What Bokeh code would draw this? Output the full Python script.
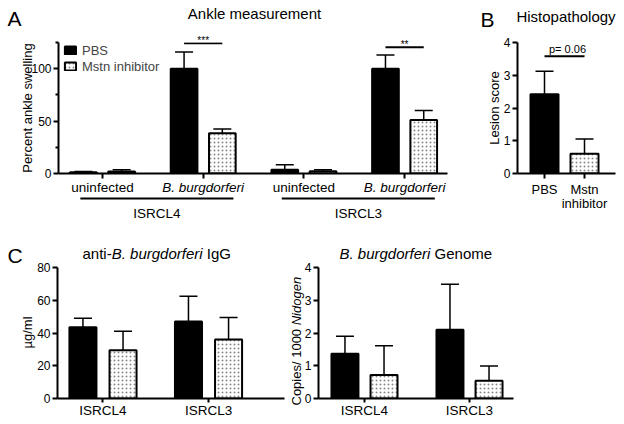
import math
import numpy as np
from bokeh.plotting import figure
from bokeh.layouts import column, row
from bokeh.models import (ColumnDataSource, Whisker, TeeHead,
                          FixedTicker, Range1d, Legend, LegendItem)
from bokeh.core.properties import value
from bokeh.embed import file_html
from bokeh.resources import INLINE

FONT = "Liberation Sans"

# ---------------- data ----------------
ankle_conditions = ["uninfected", "B. burgdorferi", "uninfected", "B. burgdorferi"]
ankle_lines = ["ISRCL4", "ISRCL3"]
ankle_pbs = [1.2, 100.0, 3.5, 100.0]
ankle_pbs_err = [0.8, 16.0, 4.8, 13.0]
ankle_mstn = [1.8, 38.5, 2.2, 51.0]
ankle_mstn_err = [1.8, 4.0, 1.3, 9.0]
ankle_sig = ["", "***", "", "**"]
ankle_sig_y = [None, 124.3, None, 120.5]

histo_groups = ["PBS", "Mstn\ninhibitor"]
histo_values = [2.42, 0.60]
histo_err = [0.70, 0.45]
histo_p_text = "p= 0.06"
histo_p_y = 3.58

strain_labels = ["ISRCL4", "ISRCL3"]
igg_pbs = [43.5, 47.0]
igg_pbs_err = [5.5, 15.5]
igg_mstn = [29.5, 36.0]
igg_mstn_err = [11.5, 13.5]
genome_pbs = [1.37, 2.10]
genome_pbs_err = [0.53, 1.39]
genome_mstn = [0.72, 0.54]
genome_mstn_err = [0.89, 0.45]

# ---------------- layout geometry (page px) ----------------
FR_A = dict(L=58, R=447, T=42, B=173, x0=-0.437, x1=3.426, y0=0, y1=125)
FR_B = dict(L=517, R=615, T=42, B=173, x0=-0.675, x1=1.775, y0=0, y1=4)
FR_C1 = dict(L=57, R=284, T=267, B=398, x0=-0.431, x1=1.720, y0=0, y1=80)
FR_C2 = dict(L=318, R=513, T=267, B=398, x0=-0.438, x1=1.419, y0=0, y1=4)


def make_fig(fr, left, top, width, height):
    p = figure(width=width, height=height,
               x_range=Range1d(fr["x0"], fr["x1"]), y_range=Range1d(fr["y0"], fr["y1"]),
               output_backend="svg", toolbar_location=None,
               min_border_left=fr["L"] - left, min_border_right=left + width - fr["R"],
               min_border_top=fr["T"] - top, min_border_bottom=top + height - fr["B"])
    p.outline_line_color = None
    p.grid.visible = False
    p.background_fill_color = "white"
    p.border_fill_color = "white"
    return p


def style(p, yticks, xticks, yminor=()):
    for ax in (p.xaxis[0], p.yaxis[0]):
        ax.axis_line_width = 2
        ax.axis_line_color = "black"
        ax.major_tick_line_width = 2
        ax.major_tick_line_color = "black"
        ax.major_tick_in = 0
        ax.major_tick_out = 5
        ax.minor_tick_in = 0
        ax.minor_tick_out = 3
        ax.minor_tick_line_width = 2
        ax.minor_tick_line_color = "black"
        ax.major_label_text_font = FONT
        ax.major_label_text_color = "black"
    p.yaxis.ticker = FixedTicker(ticks=list(yticks), minor_ticks=list(yminor))
    p.xaxis.ticker = FixedTicker(ticks=list(xticks))
    p.xaxis.minor_tick_line_color = None
    if not yminor:
        p.yaxis.minor_tick_line_color = None
    p.yaxis.major_label_text_font_size = "12px"
    p.yaxis.major_label_standoff = 2


def bars(p, xs, vals, errs, width, hatch):
    src = ColumnDataSource(dict(x=list(xs), top=list(vals),
                                upper=[v + e for v, e in zip(vals, errs)]))
    if hatch:
        r = p.vbar(x="x", top="top", bottom=0, width=width, source=src,
                   fill_color="white", line_color="black", line_width=2,
                   hatch_pattern="dot", hatch_color="#8a8a8a", hatch_scale=4,
                   hatch_weight=1)
    else:
        r = p.vbar(x="x", top="top", bottom=0, width=width, source=src,
                   fill_color="black", line_color="black", line_width=2)
    w = Whisker(base="x", lower="top", upper="upper", source=src,
                dimension="height", line_width=1.5, line_color="black",
                lower_head=None,
                upper_head=TeeHead(size=18, line_width=1.5, line_color="black"))
    p.add_layout(w)
    return r


def px2x(fr, px):
    return fr["x0"] + (px - fr["L"]) * (fr["x1"] - fr["x0"]) / (fr["R"] - fr["L"])


def py2y(fr, py):
    return fr["y0"] + (fr["B"] - py) * (fr["y1"] - fr["y0"]) / (fr["B"] - fr["T"])


def gtext(p, xs, ys, texts, size, align="left", baseline="middle",
          style_="normal", angle=0.0):
    p.text(x=list(xs), y=list(ys), text=list(texts), text_font=value(FONT),
           text_font_size=value(f"{size}px"), text_align=align,
           text_baseline=baseline, text_font_style=style_, angle=angle,
           text_color="black", level="overlay")


# ---------------- Panel A ----------------
pA = make_fig(FR_A, 0, 0, 470, 230)
style(pA, [0, 50, 100], range(len(ankle_conditions)), yminor=[25, 75, 125])
pA.xaxis.major_label_overrides = {i: "" for i in range(len(ankle_conditions))}
xa = np.arange(len(ankle_conditions))
rA1 = bars(pA, xa - 0.19, ankle_pbs, ankle_pbs_err, 0.265, False)
rA2 = bars(pA, xa + 0.19, ankle_mstn, ankle_mstn_err, 0.265, True)
leg = Legend(items=[LegendItem(label="PBS", renderers=[rA1]),
                    LegendItem(label="Mstn inhibitor", renderers=[rA2])],
             location=(5, 99), padding=0, margin=0, spacing=0,
             glyph_width=14, glyph_height=10, label_height=16,
             label_standoff=5, label_text_font=FONT, label_text_font_size="13px",
             border_line_color=None, background_fill_alpha=0)
pA.add_layout(leg)
for i, (s, sy) in enumerate(zip(ankle_sig, ankle_sig_y)):
    if s:
        pA.segment(x0=i - 0.19, x1=i + 0.19, y0=sy, y1=sy, line_width=2,
                   line_color="black")
sig_idx = [i for i, s in enumerate(ankle_sig) if s]
gtext(pA, sig_idx, [py2y(FR_A, 39.5), py2y(FR_A, 43.5)],
      [ankle_sig[i] for i in sig_idx], 10, align="center")
gtext(pA, [0, 2], [py2y(FR_A, 186.5)] * 2, [ankle_conditions[0], ankle_conditions[2]],
      13.5, align="center")
gtext(pA, [1, 3], [py2y(FR_A, 186.5)] * 2, [ankle_conditions[1], ankle_conditions[3]],
      13.5, align="center", style_="italic")
gc = [2 * j + 0.54 for j in range(len(ankle_lines))]
pA.segment(x0=[c - 0.76 for c in gc], x1=[c + 0.76 for c in gc],
           y0=[py2y(FR_A, 198)] * 2, y1=[py2y(FR_A, 198)] * 2,
           line_width=2, line_color="black", level="overlay")
gtext(pA, gc, [py2y(FR_A, 213)] * 2, ankle_lines, 13.5, align="center")
gtext(pA, [px2x(FR_A, 27)], [py2y(FR_A, 107.5)], ["Percent ankle swelling"], 13,
      align="center", angle=math.pi / 2)
gtext(pA, [px2x(FR_A, 254)], [py2y(FR_A, 12.5)], ["Ankle measurement"], 15, align="center")
gtext(pA, [px2x(FR_A, 7)], [py2y(FR_A, 17.5)], ["A"], 21)

# ---------------- Panel B ----------------
pB = make_fig(FR_B, 470, 0, 150, 230)
style(pB, [0, 1, 2, 3, 4], range(len(histo_groups)))
xb = np.arange(len(histo_groups))
bars(pB, xb[:1], histo_values[:1], histo_err[:1], 0.7, False)
bars(pB, xb[1:], histo_values[1:], histo_err[1:], 0.7, True)
pB.xaxis.major_label_overrides = {int(i): g for i, g in zip(xb, histo_groups)}
pB.xaxis.major_label_text_font_size = "13px"
pB.xaxis.major_label_text_line_height = 0.95
pB.xaxis.major_label_standoff = 3
pB.segment(x0=0, x1=1, y0=histo_p_y, y1=histo_p_y, line_width=2, line_color="black")
gtext(pB, [px2x(FR_B, 567)], [py2y(FR_B, 48)], [histo_p_text], 11, align="center")
gtext(pB, [px2x(FR_B, 494)], [py2y(FR_B, 107.5)], ["Lesion score"], 13,
      align="center", angle=math.pi / 2)
gtext(pB, [px2x(FR_B, 565.5)], [py2y(FR_B, 15.5)], ["Histopathology"], 15, align="center")
gtext(pB, [px2x(FR_B, 480)], [py2y(FR_B, 19)], ["B"], 21)

# ---------------- Panel C1 ----------------
pC1 = make_fig(FR_C1, 0, 230, 286, 190)
style(pC1, [0, 20, 40, 60, 80], range(len(strain_labels)))
xc = np.arange(len(strain_labels))
bars(pC1, xc - 0.19, igg_pbs, igg_pbs_err, 0.256, False)
bars(pC1, xc + 0.19, igg_mstn, igg_mstn_err, 0.256, True)
pC1.xaxis.major_label_overrides = {int(i): s for i, s in zip(xc, strain_labels)}
pC1.xaxis.major_label_text_font_size = "13.5px"
pC1.xaxis.major_tick_out = 4
pC1.xaxis.major_label_standoff = 0
gtext(pC1, [px2x(FR_C1, 27)], [py2y(FR_C1, 332)], ["µg/ml"], 13,
      align="center", angle=math.pi / 2)
gtext(pC1, [px2x(FR_C1, 111.2)], [py2y(FR_C1, 252.5)], ["anti-"], 15, align="right")
gtext(pC1, [px2x(FR_C1, 111.2)], [py2y(FR_C1, 252.5)], ["B. burgdorferi"], 15,
      style_="italic")
gtext(pC1, [px2x(FR_C1, 206.3)], [py2y(FR_C1, 252.5)], ["IgG"], 15)
gtext(pC1, [px2x(FR_C1, 7)], [py2y(FR_C1, 254.5)], ["C"], 21)

# ---------------- Panel C2 ----------------
pC2 = make_fig(FR_C2, 286, 230, 334, 190)
style(pC2, [0, 1, 2, 3, 4], range(len(strain_labels)))
bars(pC2, xc - 0.186, genome_pbs, genome_pbs_err, 0.257, False)
bars(pC2, xc + 0.186, genome_mstn, genome_mstn_err, 0.257, True)
pC2.xaxis.major_label_overrides = {int(i): s for i, s in zip(xc, strain_labels)}
pC2.xaxis.major_label_text_font_size = "13.5px"
pC2.xaxis.major_tick_out = 4
pC2.xaxis.major_label_standoff = 0
gtext(pC2, [px2x(FR_C2, 296)], [py2y(FR_C2, 328.4)], ["Copies/ 1000"], 13,
      align="right", angle=math.pi / 2)
gtext(pC2, [px2x(FR_C2, 296)], [py2y(FR_C2, 324.8)], ["Nidogen"], 13,
      align="left", style_="italic", angle=math.pi / 2)
gtext(pC2, [px2x(FR_C2, 339)], [py2y(FR_C2, 252.5)], ["B. burgdorferi"], 15,
      style_="italic")
gtext(pC2, [px2x(FR_C2, 434.1)], [py2y(FR_C2, 252.5)], ["Genome"], 15)

layout = column(row(pA, pB), row(pC1, pC2))
open("out.html", "w").write(file_html(layout, INLINE))
